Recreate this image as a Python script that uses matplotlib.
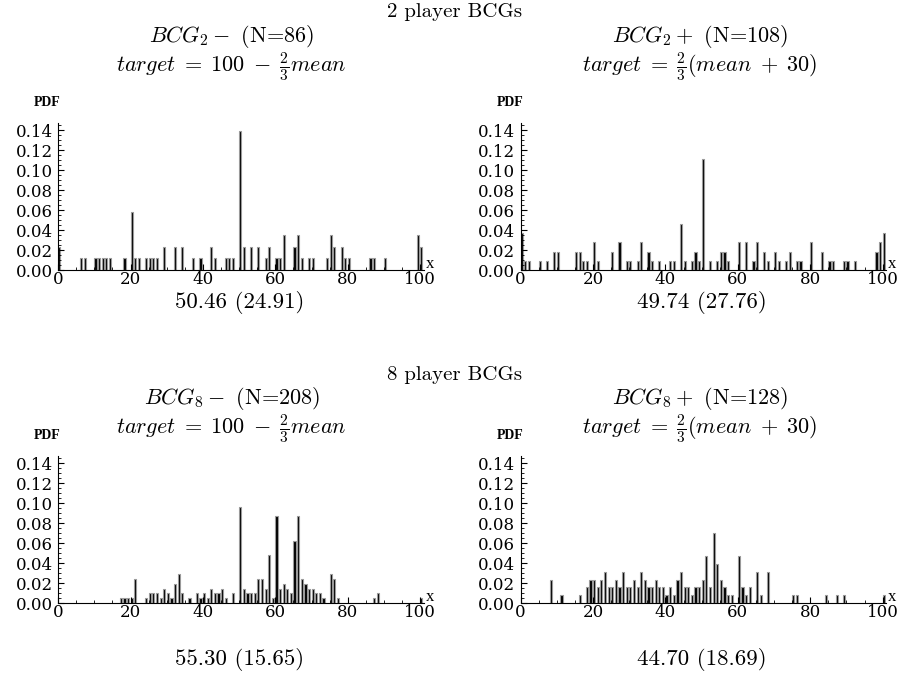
import matplotlib.pyplot as plt
import numpy as np

plt.rcParams['font.family'] = 'cmr10'
plt.rcParams['mathtext.fontset'] = 'cm'
plt.rcParams['axes.formatter.use_mathtext'] = True

# 2 player, target = 100 - 2/3 mean  (N=86)
v2_minus = [0, 6, 7, 10, 11, 12, 13, 14, 18, 20, 21, 22, 24, 25, 26, 27, 29, 32, 34, 37, 39,
            42, 43, 46, 47, 48, 50, 51, 53, 55, 57, 58, 60, 61, 62, 65, 66, 67, 69, 70,
            74, 75, 76, 78, 79, 80, 86, 87, 90, 99, 100]
c2_minus = [2, 1, 1, 1, 1, 1, 1, 1, 1, 5, 1, 1, 1, 1, 1, 1, 2, 2, 2, 1, 1,
            2, 1, 1, 1, 1, 12, 2, 2, 2, 1, 2, 1, 1, 3, 2, 3, 1, 1, 1,
            1, 3, 2, 2, 1, 1, 1, 1, 1, 3, 2]
n2_minus = 86

# 2 player, target = 2/3 (mean + 30)  (N=108)
v2_plus = [0, 1, 2, 5, 7, 9, 10, 15, 16, 17, 18, 20, 21, 25, 27, 29, 30, 32, 33, 35, 36, 38,
           41, 42, 44, 45, 47, 48, 49, 50, 52, 54, 55, 56, 57, 60, 62, 64, 65, 67, 68,
           70, 71, 73, 74, 76, 77, 80, 83, 85, 86, 89, 90, 92, 98, 99, 100]
c2_plus = [4, 1, 1, 1, 1, 2, 2, 2, 2, 1, 1, 3, 1, 2, 3, 1, 1, 1, 3, 2, 1, 1,
           1, 1, 5, 1, 1, 2, 1, 12, 1, 1, 2, 2, 1, 3, 3, 1, 3, 2, 1,
           2, 1, 1, 2, 1, 1, 3, 2, 1, 1, 1, 1, 1, 2, 3, 4]
n2_plus = 108

# 8 player, target = 100 - 2/3 mean  (N=208)
v8_minus = [17, 18, 19, 20, 21, 24, 25, 26, 27, 28, 29, 30, 31, 32, 33, 34, 36, 38, 39, 40, 41,
            42, 43, 44, 45, 46, 48, 50, 51, 52, 53, 54, 55, 56, 57, 58, 59, 60, 61, 62,
            63, 64, 65, 66, 67, 68, 69, 70, 71, 72, 73, 75, 76, 77, 87, 88, 100]
c8_minus = [1, 1, 1, 1, 5, 1, 2, 2, 2, 1, 3, 2, 1, 4, 6, 2, 1, 2, 1, 2, 1,
            3, 2, 2, 3, 1, 2, 20, 3, 2, 2, 2, 5, 5, 3, 10, 1, 18, 3, 4,
            3, 2, 13, 18, 5, 4, 3, 3, 2, 2, 1, 6, 5, 1, 1, 2, 1]
n8_minus = 208

# 8 player, target = 2/3 (mean + 30)  (N=128)
v8_plus = [8, 11, 16, 18, 19, 20, 21, 22, 23, 24, 25, 26, 27, 28, 29, 30, 31, 32, 33, 34, 35,
           36, 37, 38, 39, 40, 41, 42, 43, 44, 45, 46, 47, 48, 49, 50, 51, 52, 53, 54, 55,
           56, 57, 58, 60, 61, 62, 63, 65, 66, 68, 75, 76, 84, 87, 89, 100]
c8_plus = [3, 1, 1, 2, 3, 3, 2, 3, 4, 2, 2, 3, 2, 4, 2, 2, 3, 2, 4, 3, 2,
           2, 3, 2, 2, 1, 2, 1, 3, 4, 2, 2, 1, 2, 2, 3, 6, 2, 9, 5, 3,
           2, 1, 1, 6, 2, 1, 2, 4, 1, 4, 1, 1, 1, 1, 1, 1]
n8_plus = 128

fig = plt.figure(figsize=(9.09, 6.96), dpi=100)

tick_font = {'family': 'DejaVu Serif', 'size': 12}


def panel(rect, vals, cnts, n):
    ax = fig.add_axes(rect)
    ax.bar(vals, np.array(cnts) / n, width=0.6, align='edge', color='black',
           edgecolor='#9a9a9a', linewidth=0.8)
    ax.set_xlim(0, 101)
    ax.set_ylim(0, 0.147)
    for s in ['top', 'right']:
        ax.spines[s].set_visible(False)
    ax.set_xticks(range(0, 101, 20))
    ax.set_xticks(range(0, 101, 5), minor=True)
    ax.set_yticks(np.arange(0, 0.141, 0.02))
    ax.set_yticks(np.arange(0, 0.146, 0.005), minor=True)
    ax.set_xticklabels([str(t) for t in range(0, 101, 20)], fontdict=tick_font)
    ax.set_yticklabels(['%.2f' % t for t in np.arange(0, 0.141, 0.02)], fontdict=tick_font)
    ax.tick_params(direction='in', length=4, width=0.8)
    ax.tick_params(axis='x', pad=0.5)
    ax.tick_params(axis='y', pad=4)
    ax.tick_params(which='minor', direction='in', length=2, width=0.6)
    ax.text(101.5, 0.002, 'x', fontdict={'family': 'Liberation Serif', 'size': 12})
    ax.text(-3, 0.164, 'PDF', ha='center', fontdict={'family': 'Liberation Serif', 'size': 10,
                                                     'weight': 'bold'})
    return ax


w = 101 * 3.62 / 909
h = 147 / 696
panel([0.064, 0.612, w, h], v2_minus, c2_minus, n2_minus)
panel([0.5728, 0.612, w, h], v2_plus, c2_plus, n2_plus)
panel([0.064, 0.1336, w, h], v8_minus, c8_minus, n8_minus)
panel([0.5728, 0.1336, w, h], v8_plus, c8_plus, n8_plus)

fs = 15
fs2 = 16
fs3 = 16.5
minus_eq = r'$target\;=\;100\;-\;\frac{2}{3}mean$'
plus_eq = r'$target\;=\;\frac{2}{3}(mean\;+\;30)$'

fig.text(0.5, 0.983, '2 player BCGs', ha='center', va='center', fontsize=fs)
fig.text(0.255, 0.948, r'$BCG_2-$ (N=86)', ha='center', va='center', fontsize=fs2)
fig.text(0.255, 0.904, minus_eq, ha='center', va='center', fontsize=fs2)
fig.text(0.770, 0.948, r'$BCG_2+$ (N=108)', ha='center', va='center', fontsize=fs2)
fig.text(0.770, 0.904, plus_eq, ha='center', va='center', fontsize=fs2)
fig.text(0.264, 0.566, '50.46 (24.91)', ha='center', va='center', fontsize=fs3)
fig.text(0.772, 0.566, '49.74 (27.76)', ha='center', va='center', fontsize=fs3)

fig.text(0.5, 0.461, '8 player BCGs', ha='center', va='center', fontsize=fs)
fig.text(0.255, 0.427, r'$BCG_8-$ (N=208)', ha='center', va='center', fontsize=fs2)
fig.text(0.255, 0.384, minus_eq, ha='center', va='center', fontsize=fs2)
fig.text(0.770, 0.427, r'$BCG_8+$ (N=128)', ha='center', va='center', fontsize=fs2)
fig.text(0.770, 0.384, plus_eq, ha='center', va='center', fontsize=fs2)
fig.text(0.264, 0.052, '55.30 (15.65)', ha='center', va='center', fontsize=fs3)
fig.text(0.772, 0.052, '44.70 (18.69)', ha='center', va='center', fontsize=fs3)

fig.savefig('out.png', dpi=100)
